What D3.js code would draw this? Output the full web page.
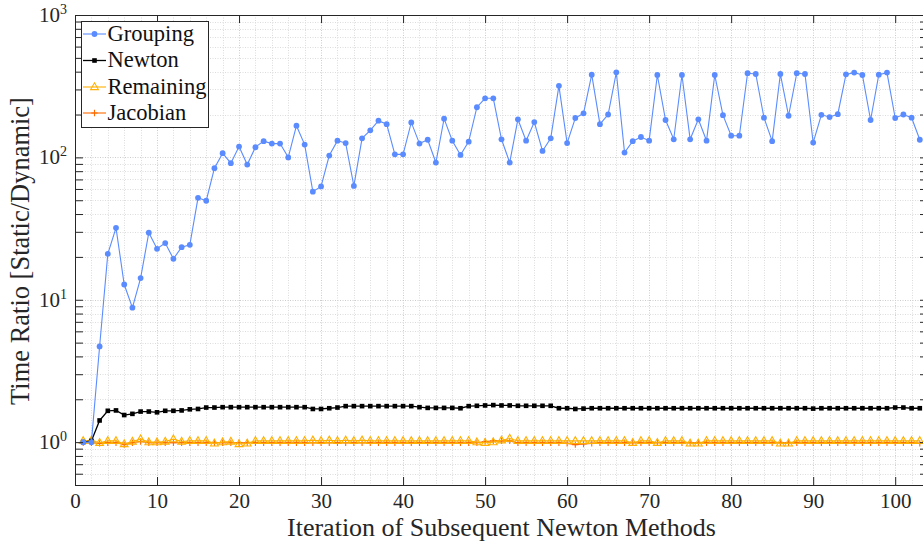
<!DOCTYPE html>
<html><head><meta charset="utf-8">
<script src="https://cdn.jsdelivr.net/npm/d3@7/dist/d3.min.js"></script>
<style>body{margin:0;background:#fff}svg{display:block}</style>
</head><body>
<svg id="chart" width="923" height="543"></svg>
<script>
// ---------- data ----------
const iterations = d3.range(1, 104);
const grouping = [1.0,1.0,4.7,21,32,12.8,8.8,14.2,29.6,22.8,25,19.4,23.4,24.3,52,49.6,84,107,91,119,
  89,118,130,125,125,100,167,123,57.4,62.5,103,131,126,63,136,155,181,171,105,105,
  176,125,133,92,187,131,104,129,225,260,260,134,92,185,131,177,111,136,318,126,
  189,204,381,171,200,396,108,130,139,131,379,183,134,379,134,185,131,379,198,142,
  142,390,385,190,130,385,196,390,385,127,199,192,201,383,394,379,183,381,394,189,
  200,190,133];
const newton = [1.0,1.02,1.42,1.66,1.67,1.55,1.58,1.64,1.64,1.62,1.66,1.66,1.67,1.70,1.71,1.75,1.75,1.76,1.76,1.76,
  1.76,1.76,1.76,1.76,1.76,1.76,1.76,1.76,1.71,1.71,1.73,1.75,1.79,1.79,1.79,1.79,1.79,1.79,1.79,1.79,
  1.79,1.76,1.74,1.74,1.74,1.74,1.73,1.79,1.80,1.81,1.82,1.81,1.81,1.80,1.80,1.80,1.80,1.80,1.73,1.73,
  1.71,1.72,1.73,1.73,1.73,1.73,1.73,1.73,1.73,1.73,1.73,1.73,1.73,1.73,1.73,1.73,1.73,1.73,1.73,1.73,
  1.73,1.73,1.73,1.73,1.73,1.73,1.73,1.73,1.73,1.72,1.73,1.73,1.73,1.73,1.73,1.73,1.73,1.73,1.73,1.75,
  1.75,1.73,1.73];
const remaining = [1.02,1.03,0.99,1.02,1.02,0.97,1.01,1.05,1.0,1.0,1.01,1.05,1.01,1.02,1.02,1.02,0.98,1.0,1.01,0.97,
  0.98,1.02,1.02,1.02,1.02,1.02,1.02,1.02,1.03,1.02,1.03,1.02,1.03,1.02,1.03,1.02,1.02,1.02,1.02,1.02,
  1.02,1.02,1.02,1.02,1.02,1.02,1.02,1.02,1.0,0.99,1.0,1.03,1.06,1.02,1.02,1.02,1.02,1.02,1.02,1.02,
  1.02,1.02,1.02,1.02,1.02,1.02,1.02,0.99,1.02,1.02,0.99,1.02,1.02,1.02,0.98,0.98,1.02,1.02,1.02,1.02,
  1.02,1.02,1.02,1.02,1.02,0.98,0.98,1.02,1.02,1.02,1.02,1.02,1.02,1.02,1.02,1.02,1.02,1.02,1.02,1.02,
  1.02,1.02,1.02];
const jacobian = [0.99,0.99,0.98,0.99,0.99,0.96,0.99,1.01,0.99,0.99,0.99,0.99,0.99,0.99,0.99,0.99,0.99,0.99,0.99,0.99,
  0.99,0.99,0.99,0.99,0.99,0.99,0.99,0.99,0.99,0.99,0.99,0.99,0.99,0.99,0.99,0.99,0.99,0.99,0.99,0.99,
  0.99,0.99,0.99,0.99,0.99,0.99,0.99,0.99,0.99,1.01,1.02,1.02,1.02,0.99,0.99,0.99,0.99,0.99,0.99,0.98,
  0.96,0.97,0.98,0.99,0.99,0.99,0.99,0.99,0.99,0.99,0.99,0.99,0.99,0.99,0.99,0.99,0.99,0.99,0.99,0.99,
  0.99,0.99,0.99,0.99,0.99,0.99,0.99,0.99,0.99,0.99,0.99,0.99,0.99,0.99,0.99,0.99,0.99,0.99,0.99,0.99,
  0.99,0.99,0.98];
const xTicks = [0,10,20,30,40,50,60,70,80,90,100];
const yTickExponents = [0,1,2,3];
const seriesNames = ["Grouping","Newton","Remaining","Jacobian"];
const xLabel = "Iteration of Subsequent Newton Methods";
const yLabel = "Time Ratio [Static/Dynamic]";

// ---------- setup ----------
const FONT = "'Liberation Serif','DejaVu Serif',serif";
const svg = d3.select("#chart");
const pL = 75, pR = 928, pT = 15, pB = 485;
const x = d3.scaleLinear().domain([0, 104]).range([pL, pR]);
const y = d3.scaleLog().domain([0.5, 1000]).range([pB, pT]);
const axisColor = "#262626";

const colors = {Grouping:"#5b8cff", Newton:"#000000", Remaining:"#ffb000", Jacobian:"#ff6a00"};
const data = {Grouping:grouping, Newton:newton, Remaining:remaining, Jacobian:jacobian};

svg.append("defs").append("clipPath").attr("id","clip")
  .append("rect").attr("x", pL).attr("y", pT).attr("width", pR-pL).attr("height", pB-pT);

// grid
const xMinor = d3.range(0, 105, 2);
const yMinor = [];
[-1,0,1,2].forEach(k => { for (let m=1;m<10;m++){ const v=+(m*Math.pow(10,k)).toPrecision(3); if (v>=0.5 && v<=1000) yMinor.push(v);} });
yMinor.push(1000);
const isMajorY = d => [1,10,100,1000].includes(d);
const grid = svg.append("g").attr("clip-path","url(#clip)");
grid.selectAll(".gx").data(xMinor).join("line")
  .attr("x1", d=>Math.round(x(d))+0.5).attr("x2", d=>Math.round(x(d))+0.5).attr("y1", pT).attr("y2", pB)
  .attr("stroke", d => d%10===0 ? "#cccccc" : "#dcdcdc").attr("stroke-width",1)
  .attr("stroke-dasharray","1,1.5");
grid.selectAll(".gy").data(yMinor).join("line")
  .attr("x1", pL).attr("x2", pR).attr("y1", d=>Math.round(y(d))+0.5).attr("y2", d=>Math.round(y(d))+0.5)
  .attr("stroke", d => isMajorY(d) ? "#cccccc" : "#dcdcdc")
  .attr("stroke-width",1).attr("stroke-dasharray","1,1.5");

// series
const plot = svg.append("g").attr("clip-path","url(#clip)");
const lineGen = vals => d3.line().x((d,i)=>x(iterations[i])).y(d=>y(d))(vals);

function drawMarker(g, name, cx, cy) {
  const c = colors[name];
  if (name === "Grouping") {
    g.append("circle").attr("cx",cx).attr("cy",cy).attr("r",2.9).attr("fill",c);
  } else if (name === "Newton") {
    g.append("rect").attr("x",cx-2.3).attr("y",cy-2.3).attr("width",4.6).attr("height",4.6).attr("fill",c);
  } else if (name === "Remaining") {
    g.append("path").attr("transform",`translate(${cx},${cy})`)
      .attr("d","M0,-4.2L3.9,2.6L-3.9,2.6Z").attr("fill","none").attr("stroke",c).attr("stroke-width",1.1);
  } else {
    g.append("path").attr("transform",`translate(${cx},${cy})`)
      .attr("d","M-3.2,0H3.2M0,-3.2V3.2").attr("stroke",c).attr("stroke-width",1.1);
  }
}

["Jacobian","Remaining","Newton","Grouping"].forEach(name => {
  const vals = data[name];
  const g = plot.append("g");
  g.append("path").attr("d", lineGen(vals)).attr("fill","none")
    .attr("stroke", colors[name]).attr("stroke-width", name==="Newton" ? 1.3 : 1.1);
  vals.forEach((v,i) => drawMarker(g, name, x(iterations[i]), y(v)));
});

// axes
const fontTick = 21;
const xAxis = d3.axisBottom(x).tickValues(xTicks).tickSize(-8).tickSizeOuter(0).tickPadding(8);
const gx = svg.append("g").attr("transform",`translate(0,${pB})`).call(xAxis);
gx.selectAll("text").attr("font-family",FONT).attr("font-size",fontTick).attr("fill",axisColor);
const xAxisTop = d3.axisTop(x).tickValues(xTicks).tickSize(-8).tickSizeOuter(0).tickFormat("");
const gxt = svg.append("g").attr("transform",`translate(0,${pT})`).call(xAxisTop);

const yAxis = d3.axisLeft(y).tickValues(yMinor).tickSize(-8).tickSizeOuter(0).tickFormat("");
const gy = svg.append("g").attr("transform",`translate(${pL},0)`).call(yAxis);
const yAxisR = d3.axisRight(y).tickValues(yMinor).tickSize(-8).tickSizeOuter(0).tickFormat("");
const gyr = svg.append("g").attr("transform",`translate(${pR},0)`).call(yAxisR);
[gx,gxt,gy,gyr].forEach(g => {
  g.select(".domain").attr("stroke",axisColor).attr("stroke-width",1);
  g.selectAll(".tick line").attr("stroke",axisColor);
});
// y major labels with superscripts
const yl = svg.append("g");
yTickExponents.forEach(e => {
  const t = yl.append("text").attr("x", pL-8).attr("y", y(Math.pow(10,e))+7)
    .attr("text-anchor","end").attr("font-family",FONT).attr("font-size",fontTick).attr("fill",axisColor);
  t.append("tspan").text("10");
  t.append("tspan").attr("dy",-8).attr("font-size",14).text(String(e));
});

// axis labels
function fit(sel, target, base) {
  const w = sel.node().getComputedTextLength();
  if (w > 0) sel.attr("font-size", base*target/w);
}
const xl = svg.append("text").attr("x",(pL+pR)/2).attr("y",536).attr("text-anchor","middle")
  .attr("font-family",FONT).attr("font-size",22).attr("fill",axisColor).text(xLabel);
fit(xl, 429, 22);
const ylab = svg.append("text").attr("transform",`translate(29,251) rotate(-90)`).attr("text-anchor","middle")
  .attr("font-family",FONT).attr("font-size",22).attr("fill",axisColor).text(yLabel);
fit(ylab, 308, 22);

// legend
const lg = svg.append("g");
lg.append("rect").attr("x",81.5).attr("y",21.5).attr("width",127).attr("height",106)
  .attr("fill","#fff").attr("stroke",axisColor).attr("stroke-width",1);
const rowY = [34, 60.5, 87, 113];
let legendFont = 20;
seriesNames.forEach((name,i) => {
  const cy = rowY[i];
  lg.append("line").attr("x1",83).attr("x2",106).attr("y1",cy).attr("y2",cy)
    .attr("stroke",colors[name]).attr("stroke-width", name==="Newton"?1.3:1.1);
  drawMarker(lg, name, 94.5, cy);
  const t = lg.append("text").attr("x",107.5).attr("y",cy+6.5).attr("font-family",FONT)
    .attr("font-size",20).attr("fill","#111").text(name);
  if (name==="Remaining") { const w=t.node().getComputedTextLength(); if (w>0) legendFont = 20*99/w; }
});
lg.selectAll("text").attr("font-size", legendFont);
</script>
</body></html>
